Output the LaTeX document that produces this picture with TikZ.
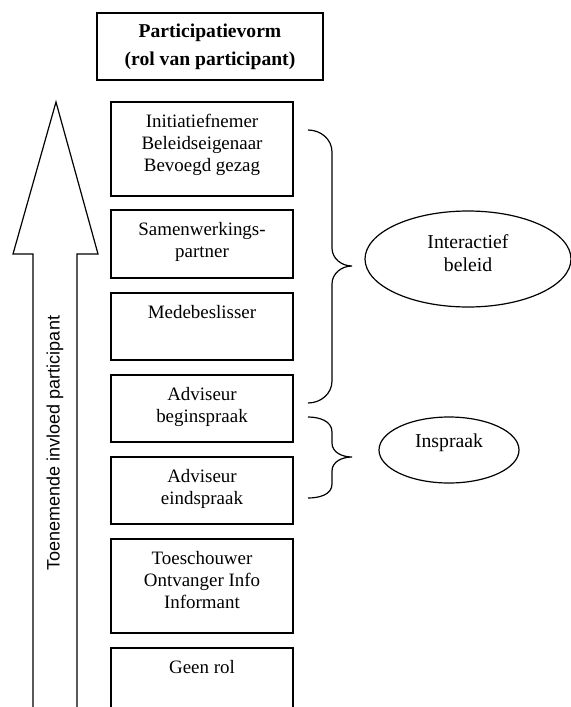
\documentclass[tikz,border=0pt]{standalone}
\usepackage{fontspec}
\setmainfont{Liberation Serif}
\newfontfamily\arrowfont{Liberation Sans}
\usetikzlibrary{positioning, shapes.geometric}

\begin{document}
\begin{tikzpicture}[
    x=0.75pt, y=-0.75pt,
    line width=0.9pt,
    rolbox/.style={draw, line width=0.9pt},
    roltext/.style={anchor=north, align=center, inner sep=0pt,
                    font=\fontsize{14.2}{16.5}\selectfont},
    vormbox/.style={draw, minimum width=169.5pt, minimum height=50.25pt,
                    align=center, font=\fontsize{14.7}{21}\selectfont\bfseries},
    oval/.style={draw, ellipse, inner sep=0pt},
    ovaltext/.style={align=center, inner sep=0pt,
                     font=\fontsize{14.8}{17.5}\selectfont},
    brc/.style={line width=0.9pt}
  ]
  \useasboundingbox (0,0) rectangle (571,707);

  %% ── Title ──
  \node[vormbox] (vorm) at (210,46.5) {Participatievorm\\(rol van participant)};

  %% ── Arrow ──
  \draw (33,712) -- (33,254) -- (13,254) -- (56,102) -- (98,254)
        -- (77,254) -- (77,712);
  \node[rotate=90, font=\fontsize{13.5}{16}\selectfont\arrowfont] (invloed)
    at (55,443) {Toenemende invloed participant};

  %% ── Roles ──
  \draw[rolbox] (111,102) rectangle (293,196);
  \node[roltext] (r1) at (202,114)
    {Initiatiefnemer\\Beleidseigenaar\\Bevoegd gezag};

  \draw[rolbox] (111,210) rectangle (293,278);
  \node[roltext] (r2) at (202,222) {Samenwerkings-\\partner};

  \draw[rolbox] (111,293) rectangle (293,360);
  \node[roltext] (r3) at (202,305) {Medebeslisser};

  \draw[rolbox] (111,375) rectangle (293,442);
  \node[roltext] (r4) at (202,387) {Adviseur\\beginspraak};

  \draw[rolbox] (111,457) rectangle (293,524);
  \node[roltext] (r5) at (202,469) {Adviseur\\eindspraak};

  \draw[rolbox] (111,539) rectangle (293,633);
  \node[roltext] (r6) at (202,551)
    {Toeschouwer\\Ontvanger Info\\Informant};

  \draw[rolbox] (111,712) -- (111,648) -- (293,648) -- (293,712);
  \node[roltext] (r7) at (202,660) {Geen rol};

  %% ── Braces ──
  \draw[brc] (308,130) to[out=0,in=90] (332,152) -- (332,248)
        to[out=-90,in=180] (352,266) to[out=180,in=90] (332,284)
        -- (332,381) to[out=-90,in=0] (308,403);
  \draw[brc] (308,417) to[out=0,in=90] (332,432) -- (332,443)
        to[out=-90,in=180] (352,457) to[out=180,in=90] (332,471)
        -- (332,484) to[out=-90,in=0] (308,498);

  %% ── Groups ──
  \node[oval, minimum width=154.5pt, minimum height=72pt] (interactief)
    at (468,259) {};
  \node[ovaltext] (interactieftxt) at (468,253) {Interactief\\beleid};

  \node[oval, minimum width=105pt, minimum height=49.5pt] (inspraak)
    at (449,450) {};
  \node[ovaltext] (inspraaktxt) at (449,443) {Inspraak};

\end{tikzpicture}
\end{document}
